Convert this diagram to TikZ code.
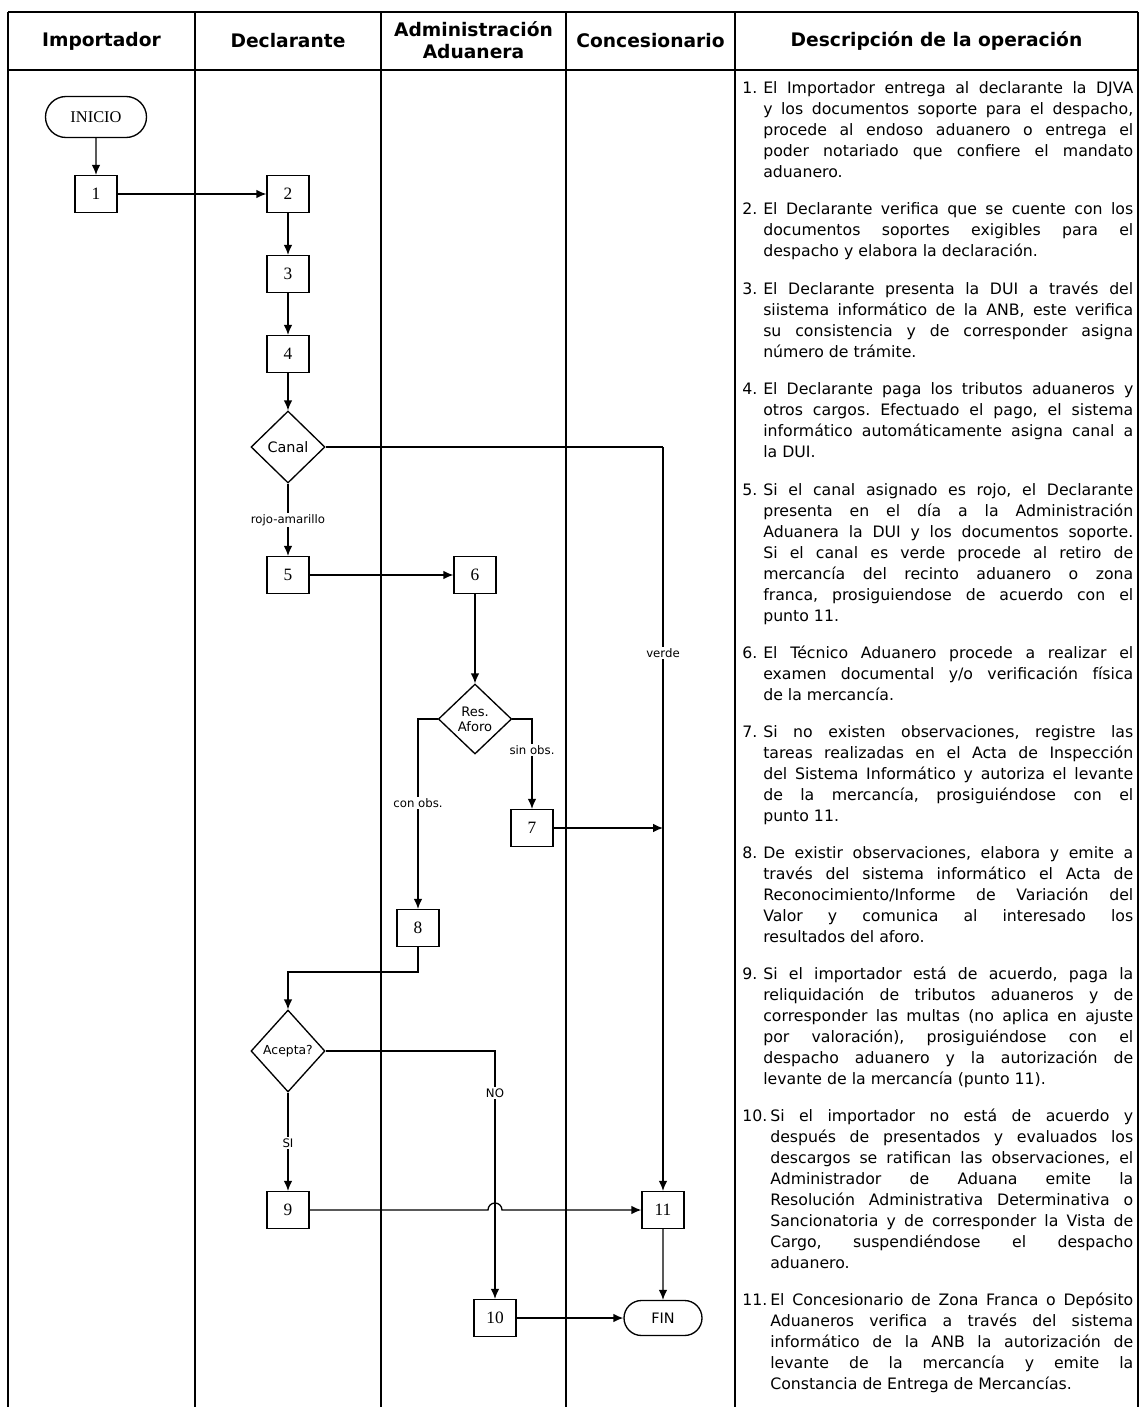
\documentclass[tikz,border=0pt]{standalone}
\usepackage{fontspec}
\setmainfont{DejaVu Sans}
\newfontfamily\numfont{Liberation Serif}
\usetikzlibrary{shapes.geometric,shapes.misc,arrows.meta}
\frenchspacing
\begin{document}
\begin{tikzpicture}[x=0.75pt,y=-0.75pt,
  gridline/.style={line width=1.6pt},
  hline/.style={line width=1pt},
  flow/.style={line width=1pt},
  arr/.style={flow,-{Latex[length=7.5pt,width=6.5pt]}},
  box/.style={draw,line width=1pt,minimum width=31.5pt,minimum height=27.75pt,inner sep=0pt,font=\numfont\fontsize{13}{13}\selectfont},
  dec/.style={draw,diamond,line width=1pt,inner sep=0pt,align=center,font=\fontsize{9.5}{11}\selectfont},
  term/.style={draw,rounded rectangle,line width=1pt,inner sep=0pt},
  lbl/.style={fill=white,inner sep=1.2pt,font=\fontsize{8.8}{10}\selectfont},
  hdr/.style={align=center,font=\bfseries\fontsize{14}{17}\selectfont},
  desc/.style={anchor=north west,inner sep=0pt,text width=293.25pt,align=justify,font=\fontsize{11.8}{15.7}\selectfont}
]
\useasboundingbox (0,0) rectangle (1143,1407);
\fill[white] (0,0) rectangle (1143,1407);

% table
\draw[gridline] (8,12) -- (1138,12);
\draw[hline] (8,70) -- (1138,70);
\foreach \x in {8,195,381,566,735,1138} \draw[gridline] (\x,12) -- (\x,1407);

% headers
\node[hdr] (h1) at (101.5,41) {Importador};
\node[hdr] (h2) at (288,41) {Declarante};
\node[hdr] (h3) at (473.5,40) {Administración\\Aduanera};
\node[hdr] (h4) at (650.5,41) {Concesionario};
\node[hdr] (h5) at (936.5,41) {Descripción de la operación};

% flow nodes
\node[term,minimum width=75.75pt,minimum height=30.75pt,font=\numfont\fontsize{12.3}{13}\selectfont] (ini) at (96,117) {INICIO};
\node[box] (b1) at (96,194) {1};
\node[box] (b2) at (288,194) {2};
\node[box] (b3) at (288,274) {3};
\node[box] (b4) at (288,354) {4};
\node[dec,minimum width=55.5pt,minimum height=54pt,font=\fontsize{10.8}{12}\selectfont] (canal) at (288,447) {Canal};
\node[box] (b5) at (288,575) {5};
\node[box] (b6) at (475,575) {6};
\node[dec,minimum width=55pt,minimum height=52.5pt,font=\fontsize{9.8}{11}\selectfont] (res) at (475,719) {Res.\\Aforo};
\node[box] (b7) at (532,828) {7};
\node[box] (b8) at (418,928) {8};
\node[dec,minimum width=55.5pt,minimum height=61.5pt,font=\fontsize{9.3}{10}\selectfont] (acp) at (288,1051) {Acepta?};
\node[box] (b9) at (288,1210) {9};
\node[box] (b10) at (495,1318) {10};
\node[box] (b11) at (663,1210) {11};
\node[term,minimum width=58.5pt,minimum height=26.25pt,font=\fontsize{10.8}{12}\selectfont] (fin) at (663,1318) {FIN};

\coordinate (vc) at (663,447);
\coordinate (v7) at (663,828);
\coordinate (e8) at (288,972);
\coordinate (j1) at (488,1210);

% connectors
\draw[arr] (ini) -- (b1);
\draw[arr] (b1) -- (b2);
\draw[arr] (b2) -- (b3);
\draw[arr] (b3) -- (b4);
\draw[arr] (b4) -- (canal);
\draw[flow] (canal.east) -- (vc);
\draw[arr] (vc) -- (b11.north);
\draw[arr] (canal) -- (b5);
\draw[arr] (b5) -- (b6);
\draw[arr] (b6) -- (res);
\draw[arr] (res.west) -| (b8.north);
\draw[arr] (res.east) -| (b7.north);
\draw[arr] (b7.east) -- (v7);
\draw[arr] (b8.south) |- (e8) -- (acp.north);
\draw[arr] (acp.east) -| (b10.north);
\draw[arr] (acp) -- (b9);
\draw[arr] (b9.east) -- (j1) arc[start angle=180,end angle=360,radius=7] -- (b11.west);
\draw[arr] (b10) -- (fin);
\draw[arr] (b11) -- (fin);

% connector labels
\node[lbl] (lrojo) at (288,520) {rojo-amarillo};
\node[lbl] (lverde) at (663,653) {verde};
\node[lbl] (lsin) at (532,750) {sin obs.};
\node[lbl] (lcon) at (418,803) {con obs.};
\node[lbl] (lno) at (495,1093) {NO};
\node[lbl] (lsi) at (288,1143) {SI};

% descriptions
\node[desc] (d1) at (742,79) {\hangindent=15.75pt\hangafter=1\noindent\makebox[15.75pt][l]{\strut1.}El Importador entrega al declarante la DJVA\linebreak y los documentos soporte para el despacho,\linebreak procede al endoso aduanero o entrega el\linebreak poder notariado que confiere el mandato\linebreak aduanero.\par};
\node[desc] (d2) at (742,200) {\hangindent=15.75pt\hangafter=1\noindent\makebox[15.75pt][l]{\strut2.}El Declarante verifica que se cuente con los\linebreak documentos soportes exigibles para el\linebreak despacho y elabora la declaración.\par};
\node[desc] (d3) at (742,280) {\hangindent=15.75pt\hangafter=1\noindent\makebox[15.75pt][l]{\strut3.}El Declarante presenta la DUI a través del\linebreak siistema informático de la ANB, este verifica\linebreak su consistencia y de corresponder asigna\linebreak número de trámite.\par};
\node[desc] (d4) at (742,380) {\hangindent=15.75pt\hangafter=1\noindent\makebox[15.75pt][l]{\strut4.}El Declarante paga los tributos aduaneros y\linebreak otros cargos. Efectuado el pago, el sistema\linebreak informático automáticamente asigna canal a\linebreak la DUI.\par};
\node[desc] (d5) at (742,481) {\hangindent=15.75pt\hangafter=1\noindent\makebox[15.75pt][l]{\strut5.}Si el canal asignado es rojo, el Declarante\linebreak presenta en el día a la Administración\linebreak Aduanera la DUI y los documentos soporte.\linebreak Si el canal es verde procede al retiro de\linebreak mercancía del recinto aduanero o zona\linebreak franca, prosiguiendose de acuerdo con el\linebreak punto 11.\par};
\node[desc] (d6) at (742,644) {\hangindent=15.75pt\hangafter=1\noindent\makebox[15.75pt][l]{\strut6.}El Técnico Aduanero procede a realizar el\linebreak examen documental y/o verificación física\linebreak de la mercancía.\par};
\node[desc] (d7) at (742,723) {\hangindent=15.75pt\hangafter=1\noindent\makebox[15.75pt][l]{\strut7.}Si no existen observaciones, registre las\linebreak tareas realizadas en el Acta de Inspección\linebreak del Sistema Informático y autoriza el levante\linebreak de la mercancía, prosiguiéndose con el\linebreak punto 11.\par};
\node[desc] (d8) at (742,844) {\hangindent=15.75pt\hangafter=1\noindent\makebox[15.75pt][l]{\strut8.}De existir observaciones, elabora y emite a\linebreak través del sistema informático el Acta de\linebreak Reconocimiento/Informe de Variación del\linebreak Valor y comunica al interesado los\linebreak resultados del aforo.\par};
\node[desc] (d9) at (742,965) {\hangindent=15.75pt\hangafter=1\noindent\makebox[15.75pt][l]{\strut9.}Si el importador está de acuerdo, paga la\linebreak reliquidación de tributos aduaneros y de\linebreak corresponder las multas (no aplica en ajuste\linebreak por valoración), prosiguiéndose con el\linebreak despacho aduanero y la autorización de\linebreak levante de la mercancía (punto 11).\par};
\node[desc] (d10) at (742,1107) {\hangindent=21pt\hangafter=1\noindent\makebox[21pt][l]{\strut10.}Si el importador no está de acuerdo y\linebreak después de presentados y evaluados los\linebreak descargos se ratifican las observaciones, el\linebreak Administrador de Aduana emite la\linebreak Resolución Administrativa Determinativa o\linebreak Sancionatoria y de corresponder la Vista de\linebreak Cargo, suspendiéndose el despacho\linebreak aduanero.\par};
\node[desc] (d11) at (742,1291) {\hangindent=21pt\hangafter=1\noindent\makebox[21pt][l]{\strut11.}El Concesionario de Zona Franca o Depósito\linebreak Aduaneros verifica a través del sistema\linebreak informático de la ANB la autorización de\linebreak levante de la mercancía y emite la\linebreak Constancia de Entrega de Mercancías.\par};
\end{tikzpicture}
\end{document}
